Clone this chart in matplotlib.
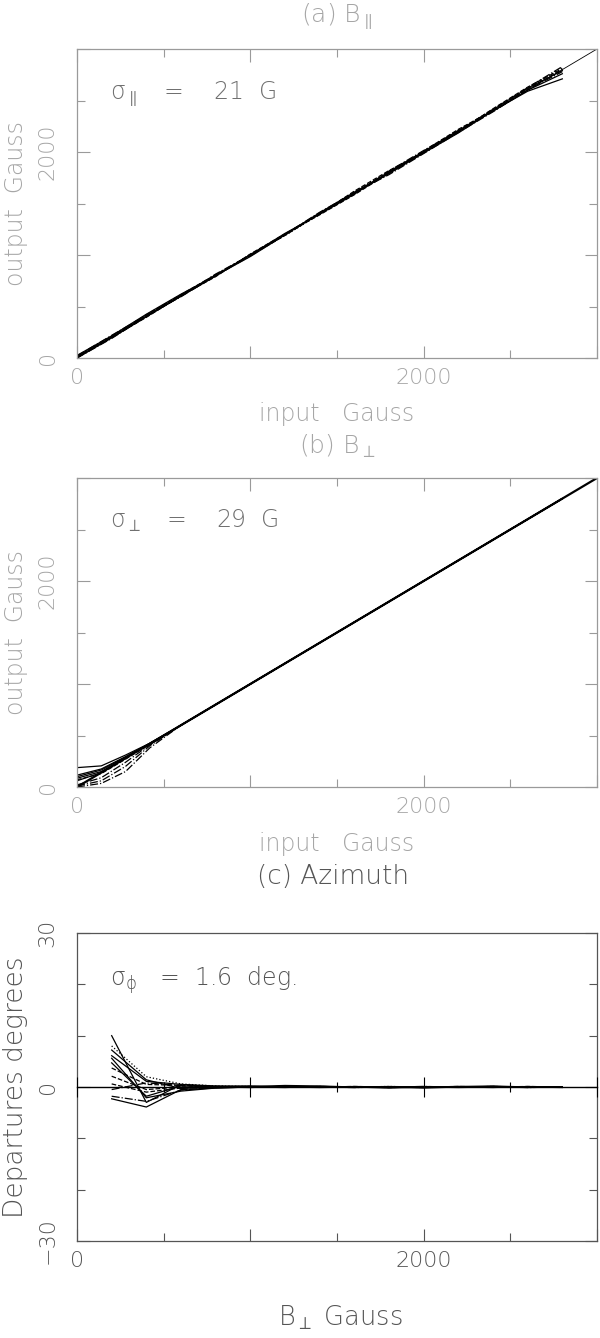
import matplotlib
matplotlib.use("Agg")
import matplotlib.pyplot as plt
from matplotlib.ticker import FixedLocator, FixedFormatter

plt.rcParams['font.family'] = ['DejaVu Sans']
plt.rcParams['font.weight'] = 'light'
plt.rcParams['mathtext.fontset'] = 'dejavusans'
plt.rcParams['mathtext.default'] = 'regular'

# ---------------- data ----------------
# panel (a): B parallel, input vs output (Gauss)
a_x = [0, 200, 400, 600, 800, 1000, 1200, 1400, 1600, 1800, 2000, 2200, 2400, 2600, 2800]
a_y1 = [25, 215, 425, 620, 800, 985, 1195, 1405, 1600, 1790, 1990, 2185, 2400, 2590, 2710]
a_y2 = [10, 205, 410, 610, 805, 1000, 1210, 1395, 1590, 1810, 2005, 2210, 2395, 2600, 2760]
a_y3 = [0, 195, 400, 600, 795, 1005, 1200, 1410, 1610, 1800, 2000, 2195, 2410, 2620, 2790]
a_y4 = [15, 210, 420, 615, 810, 995, 1190, 1400, 1620, 1820, 1995, 2200, 2420, 2630, 2810]
a_y5 = [5, 200, 395, 605, 790, 1010, 1205, 1390, 1585, 1795, 2010, 2220, 2405, 2610, 2800]
a_y6 = [20, 220, 415, 595, 800, 990, 1200, 1415, 1605, 1780, 1985, 2190, 2390, 2605, 2780]
a_y7 = [0, 190, 405, 600, 815, 1000, 1195, 1400, 1595, 1815, 2015, 2205, 2415, 2625, 2830]
a_y8 = [10, 205, 410, 610, 800, 1005, 1190, 1395, 1615, 1805, 2000, 2215, 2400, 2615, 2820]
a_series = [a_y1, a_y2, a_y3, a_y4, a_y5, a_y6, a_y7, a_y8]
a_styles = ['-', '-', '-', '--', '--', '-.', '-.', ':']

ref_x = [0, 3000]
ref_y = [0, 3000]

# panel (b): B perpendicular
b_x = [0, 140, 280, 420, 600, 1000, 1400, 1800, 2200, 2600, 2800]
b_y1 = [188, 205, 310, 425, 600, 1000, 1400, 1800, 2200, 2600, 2800]
b_y2 = [115, 175, 295, 420, 600, 1000, 1400, 1800, 2200, 2600, 2800]
b_y3 = [100, 165, 290, 425, 600, 1000, 1400, 1800, 2200, 2600, 2800]
b_y4 = [85, 150, 285, 415, 600, 1000, 1400, 1800, 2200, 2600, 2800]
b_y5 = [60, 140, 280, 420, 600, 1000, 1400, 1800, 2200, 2600, 2800]
b_y6 = [70, 130, 270, 415, 600, 1000, 1400, 1800, 2200, 2600, 2800]
b_y7 = [10, 60, 200, 400, 600, 1000, 1400, 1800, 2200, 2600, 2800]
b_y8 = [0, 35, 150, 380, 600, 1000, 1400, 1800, 2200, 2600, 2800]
b_y9 = [20, 90, 240, 410, 600, 1000, 1400, 1800, 2200, 2600, 2800]
b_series = [b_y1, b_y2, b_y3, b_y4, b_y5, b_y6, b_y7, b_y8, b_y9]
b_styles = ['-', '-', '-', '-', '-', '--', '-.', '-.', '-.']

# panel (c): azimuth departures (degrees)
c_x = [200, 400, 600, 800, 1000, 1200, 1400, 1600, 1800, 2000, 2200, 2400, 2600, 2800]
c_y1 = [10.0, -3.0, 0.5, 0.2, 0.1, 0.3, 0.2, 0.0, -0.2, 0.0, 0.1, 0.2, 0.0, -0.1]
c_y2 = [-2.3, -3.9, -0.5, -0.2, 0.0, 0.1, 0.0, -0.1, 0.0, -0.2, 0.0, 0.1, -0.1, 0.0]
c_y3 = [7.2, 1.4, -0.3, 0.1, 0.2, 0.0, 0.1, 0.0, -0.1, 0.0, 0.1, 0.0, 0.0, 0.0]
c_y4 = [6.1, 1.1, 0.5, 0.0, -0.1, 0.1, 0.0, 0.1, 0.0, 0.1, 0.0, -0.1, 0.1, 0.0]
c_y5 = [5.6, -2.1, -0.8, -0.2, 0.0, -0.1, 0.1, 0.0, 0.0, 0.0, -0.1, 0.0, 0.0, 0.0]
c_y6 = [4.7, -1.8, 0.2, 0.1, 0.0, 0.0, -0.1, 0.0, 0.1, 0.0, 0.0, 0.1, 0.0, 0.0]
c_y7 = [3.7, 0.5, 0.3, 0.1, 0.1, 0.0, 0.0, 0.1, 0.0, -0.1, 0.0, 0.0, 0.1, 0.0]
c_y8 = [2.1, -0.5, 0.0, 0.1, 0.0, 0.1, 0.0, 0.0, -0.1, 0.0, 0.1, 0.0, 0.0, 0.0]
c_y9 = [-0.5, 0.8, 0.3, 0.0, 0.1, 0.0, 0.1, 0.0, 0.0, 0.1, 0.0, 0.0, 0.0, 0.0]
c_y10 = [-1.8, -2.8, -0.6, -0.1, 0.0, 0.0, 0.0, -0.1, 0.0, 0.0, 0.0, 0.0, -0.1, 0.0]
c_y11 = [8.0, 2.0, 0.6, 0.2, 0.1, 0.0, 0.0, 0.0, 0.1, 0.0, 0.0, 0.1, 0.0, 0.0]
c_y12 = [0.6, -1.0, -0.2, 0.0, 0.0, 0.1, 0.0, 0.0, 0.0, 0.0, 0.0, 0.0, 0.0, 0.0]
c_series = [c_y1, c_y2, c_y3, c_y4, c_y5, c_y6, c_y7, c_y8, c_y9, c_y10, c_y11, c_y12]
c_styles = ['-', '-', '-', '-', '-', '-', '--', '--', '-.', '-.', ':', '--']

xy_major = [0, 1000, 2000, 3000]
xy_major_labels = ['0', '', '2000', '']
xy_minor = [500, 1500, 2500]
c_y_major = [-30, 0, 30]
c_y_major_labels = ['\u221230', '0', '30']
c_y_minor = [-20, -10, 10, 20]

# ---------------- layout ----------------
W, H = 600, 1338
fig = plt.figure(figsize=(W / 100, H / 100), dpi=100)


def axbox(left, top, right, bottom):
    return [left / W, 1 - bottom / H, (right - left) / W, (bottom - top) / H]


light = '#a6a6a6'
dark = '#555555'


def style_axes(ax, txtcol, spcol, ymaj, ylab, ymin):
    ax.set_xlim(0, 3000)
    ax.xaxis.set_major_locator(FixedLocator(xy_major))
    ax.xaxis.set_major_formatter(FixedFormatter(xy_major_labels))
    ax.xaxis.set_minor_locator(FixedLocator(xy_minor))
    ax.yaxis.set_major_locator(FixedLocator(ymaj))
    ax.yaxis.set_major_formatter(FixedFormatter(ylab))
    ax.yaxis.set_minor_locator(FixedLocator(ymin))
    ax.tick_params(which='both', direction='in', top=True, right=True,
                   color=spcol, width=0.8, labelsize=16, labelcolor=txtcol)
    ax.tick_params(which='major', length=9)
    ax.tick_params(which='minor', length=6)
    ax.tick_params(axis='x', pad=7)
    ax.tick_params(axis='y', pad=14)
    for lbl in ax.get_yticklabels():
        lbl.set_rotation(90)
        lbl.set_va('center')
    for s in ax.spines.values():
        s.set_color(spcol)
        s.set_linewidth(0.9)


# panel a
axa = fig.add_axes(axbox(77, 49, 597, 358))
axa.plot(ref_x, ref_y, color='black', lw=0.6)
for ys, ls in zip(a_series, a_styles):
    axa.plot(a_x, ys, color='black', lw=0.9, ls=ls)
axa.set_ylim(0, 3000)
style_axes(axa, light, '#9a9a9a', xy_major, xy_major_labels, xy_minor)
axa.text(190, 2520, r'$\sigma_{\parallel}$   =    21  G', fontsize=17, color='#707070')

# panel b
axb = fig.add_axes(axbox(77, 478, 597, 787))
axb.plot(ref_x, ref_y, color='black', lw=1.6)
for ys, ls in zip(b_series, b_styles):
    axb.plot(b_x, ys, color='black', lw=0.9, ls=ls)
axb.set_ylim(0, 3000)
style_axes(axb, light, '#9a9a9a', xy_major, xy_major_labels, xy_minor)
axb.text(190, 2520, r'$\sigma_{\perp}$   =    29  G', fontsize=17, color='#707070')

# panel c
axc = fig.add_axes(axbox(77, 933, 597, 1241))
for ys, ls in zip(c_series, c_styles):
    axc.plot(c_x, ys, color='black', lw=0.9, ls=ls)
axc.set_ylim(-30, 30)
style_axes(axc, dark, '#555555', c_y_major, c_y_major_labels, c_y_minor)
axc.text(190, 19.8, r'$\sigma_{\phi}$   =  1.6  deg.', fontsize=17, color='#555555')

# zero line with its own ticks
tw = axc.twiny()
tw.set_xlim(0, 3000)
for s in tw.spines.values():
    s.set_visible(False)
tw.spines['bottom'].set_visible(True)
tw.spines['bottom'].set_position(('data', 0))
tw.spines['bottom'].set_color('black')
tw.spines['bottom'].set_linewidth(1.0)
tw.xaxis.set_ticks_position('bottom')
tw.xaxis.set_major_locator(FixedLocator(xy_major))
tw.xaxis.set_minor_locator(FixedLocator(xy_minor))
tw.tick_params(which='both', direction='inout', labelbottom=False, color='black', width=0.8)
tw.tick_params(which='major', length=14)
tw.tick_params(which='minor', length=7)

# titles / labels
def ftext(x, y, s, col, size=17, rot=0):
    fig.text(x / W, 1 - y / H, s, color=col, fontsize=size, rotation=rot,
             ha='center', va='center')

ftext(337, 16, r'(a) B$_{\parallel}$', light, 18)
ftext(337, 414, 'input   Gauss', light)
ftext(16, 204, 'output  Gauss', light, rot=90)

ftext(337, 446, r'(b) B$_{\perp}$', light, 18)
ftext(337, 844, 'input   Gauss', light)
ftext(16, 633, 'output  Gauss', light, rot=90)

ftext(333, 876, '(c) Azimuth', dark, 19)
ftext(340, 1318, r'B$_{\perp}$ Gauss', dark, 18.5)
ftext(16, 1087, 'Departures degrees', dark, 19, rot=90)

fig.savefig('out.png', dpi=100)
